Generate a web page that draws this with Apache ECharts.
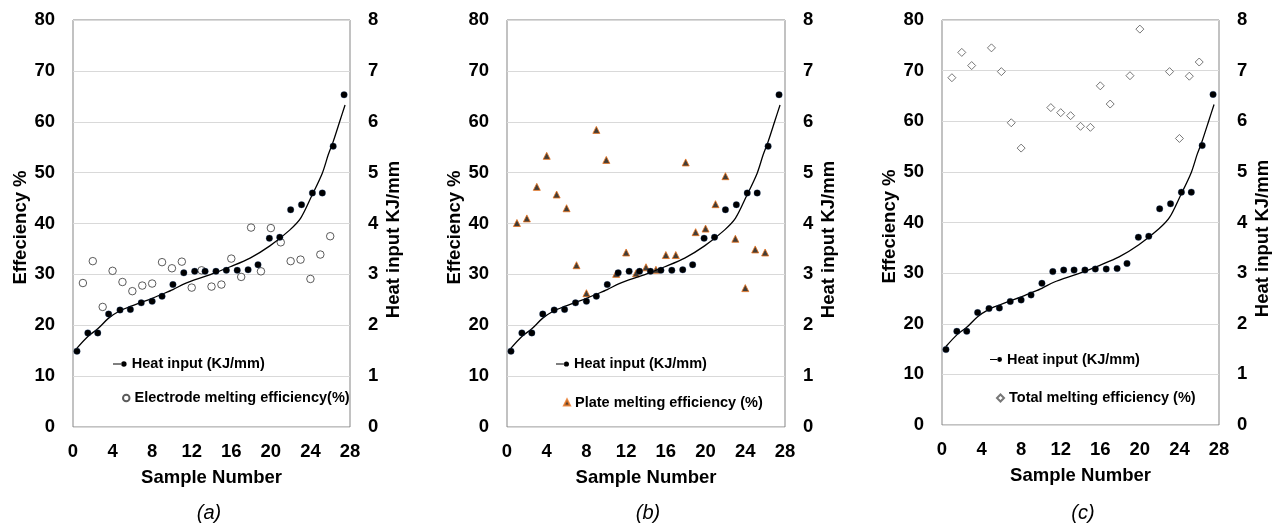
<!DOCTYPE html>
<html>
<head>
<meta charset="utf-8">
<script src="https://cdn.jsdelivr.net/npm/echarts@6/dist/echarts.min.js"></script>
<style>
html,body{margin:0;padding:0;background:#fff;}
#chart{width:1285px;height:529px;}
</style>
</head>
<body>
<div id="chart"></div>
<script>
// ---- data ----
const sampleX = [1,2,3,4,5,6,7,8,9,10,11,12,13,14,15,16,17,18,19,20,21,22,23,24,25,26];
const heatX = [0.4,1.5,2.5,3.6,4.75,5.8,6.9,8.0,9.0,10.1,11.2,12.3,13.35,14.45,15.5,16.6,17.7,18.7,19.85,20.9,22.0,23.1,24.2,25.2,26.3,27.4];
const heatInput = [1.49,1.85,1.85,2.22,2.30,2.31,2.44,2.47,2.57,2.80,3.03,3.06,3.06,3.06,3.08,3.08,3.09,3.19,3.71,3.73,4.27,4.37,4.60,4.60,5.52,6.53];
const electrodeEff = [28.3,32.6,23.6,30.7,28.5,26.7,27.8,28.2,32.4,31.2,32.5,27.4,30.8,27.6,28.0,33.1,29.5,39.2,30.6,39.1,36.3,32.6,32.9,29.1,33.9,37.5];
const plateEff = [40.1,41.0,47.2,53.3,45.7,43.0,31.8,26.3,58.4,52.5,30.1,34.3,30.2,31.4,30.9,33.8,33.8,52.0,38.3,39.0,43.8,49.3,37.0,27.3,34.9,34.3];
const totalEff = [68.6,73.6,71.0,84.0,74.5,69.8,59.7,54.7,90.8,83.7,62.7,61.7,61.1,59.0,58.8,67.0,63.4,91.2,69.0,78.2,80.5,81.9,69.8,56.6,68.9,71.7];
// trendline as traced on the picture
const trendX = [0.4,1.5,2.5,3.6,4.7,5.8,6.9,8.0,9.0,10.1,11.3,13.5,14.2,15.9,17.9,19.9,21.9,23.0,24.1,25.2,25.8,26.3,27.0,27.5];
const trendHeat = [1.55,1.78,1.93,2.14,2.28,2.37,2.45,2.53,2.61,2.70,2.82,2.97,3.02,3.15,3.32,3.56,3.87,4.10,4.53,4.99,5.35,5.61,6.03,6.33];
const effTicks = [0,10,20,30,40,50,60,70,80];
const heatTicks = [0,1,2,3,4,5,6,7,8];
const xTicks = [0,4,8,12,16,20,24,28];
const heatName = 'Heat input (KJ/mm)';
const effNames = ['Electrode melting efficiency(%)','Plate melting efficiency (%)','Total melting efficiency (%)'];
const captions = ['(a)','(b)','(c)'];

const FONT = '"Liberation Sans", Arial, sans-serif';
const pair = (xs, ys) => xs.map((x, i) => [x, ys[i]]);

const panels = [
  {left:73, width:277, height:407, eff:electrodeEff, symbol:'circle', size:7.5,
   style:{color:'#fff', borderColor:'#333', borderWidth:1},
   leg1:{left:113, top:356, w:14}, leg2:{left:122, top:390, w:6.5}, cap:209},
  {left:507, width:278, height:407, eff:plateEff, symbol:'triangle', size:7,
   style:{color:'#140c04', borderColor:'#e8731e', borderWidth:1},
   leg1:{left:556, top:356, w:13}, leg2:{left:563, top:394.5, w:6}, cap:648},
  {left:942, width:277, height:405, eff:totalEff, symbol:'diamond', size:8,
   style:{color:'#fff', borderColor:'#555', borderWidth:1},
   leg1:{left:990, top:351.5, w:12}, leg2:{left:996, top:390, w:7}, cap:1083}
];

const grid = [], xAxis = [], yAxis = [], series = [], legend = [], title = [];
const heatIcon = 'path://M0,2.5h8.6v1.2h-8.6z M8.2,3.1a2.7,2.7 0 1,0 5.4,0a2.7,2.7 0 1,0 -5.4,0z';

panels.forEach((p, i) => {
  grid.push({left:p.left, top:20, width:p.width, height:p.height, show:true,
    borderColor:'#858585', borderWidth:1, backgroundColor:'transparent'});
  xAxis.push({type:'value', gridIndex:i, min:xTicks[0], max:xTicks[xTicks.length-1], interval:xTicks[1]-xTicks[0],
    axisLine:{show:false}, axisTick:{show:false}, splitLine:{show:false},
    axisLabel:{color:'#000', fontSize:18.5, fontWeight:'bold', fontFamily:FONT, margin:15},
    name:'Sample Number', nameLocation:'middle', nameGap:41,
    nameTextStyle:{color:'#000', fontSize:18.5, fontWeight:'bold', fontFamily:FONT}});
  yAxis.push({type:'value', gridIndex:i, position:'left', min:effTicks[0], max:effTicks[effTicks.length-1], interval:effTicks[1]-effTicks[0],
    axisLine:{show:false}, axisTick:{show:false},
    splitLine:{show:true, lineStyle:{color:'#d9d9d9', width:1}},
    axisLabel:{color:'#000', fontSize:18.5, fontWeight:'bold', fontFamily:FONT, margin:18},
    name:'Effeciency %', nameLocation:'middle', nameGap:41, nameRotate:90,
    nameTextStyle:{color:'#000', fontSize:18.5, fontWeight:'bold', fontFamily:FONT, padding:[0,8,0,0]}});
  yAxis.push({type:'value', gridIndex:i, position:'right', min:heatTicks[0], max:heatTicks[heatTicks.length-1], interval:heatTicks[1]-heatTicks[0],
    axisLine:{show:false}, axisTick:{show:false}, splitLine:{show:false},
    axisLabel:{color:'#000', fontSize:18.5, fontWeight:'bold', fontFamily:FONT, margin:18},
    name:'Heat input KJ/mm', nameLocation:'middle', nameGap:34, nameRotate:90,
    nameTextStyle:{color:'#000', fontSize:18.5, fontWeight:'bold', fontFamily:FONT, padding:[0,32,0,0]}});

  const sHeat = heatName + '\u200b'.repeat(i);
  const sEff = effNames[i];
  series.push({type:'scatter', name:sEff, xAxisIndex:i, yAxisIndex:2*i, data:pair(sampleX, p.eff),
    symbol:p.symbol, symbolSize:p.size, itemStyle:p.style, clip:true, z:2});
  series.push({type:'line', name:'trend'+i, xAxisIndex:i, yAxisIndex:2*i+1, data:pair(trendX, trendHeat),
    smooth:0.3, showSymbol:false, symbol:'none', lineStyle:{color:'#000', width:1.3}, z:3, silent:true});
  series.push({type:'scatter', name:sHeat, xAxisIndex:i, yAxisIndex:2*i+1, data:pair(heatX, heatInput),
    symbol:'circle', symbolSize:6.5, itemStyle:{color:'#000', borderColor:'#0d3b7a', borderWidth:0.3, opacity:1}, clip:true, z:4});

  const textStyle = {color:'#000', fontSize:14.5, fontWeight:'bold', fontFamily:FONT, lineHeight:16};
  legend.push({data:[{name:sHeat, icon:heatIcon, itemStyle:{color:'#000', borderWidth:0}}],
    left:p.leg1.left, top:p.leg1.top, padding:0, itemWidth:p.leg1.w, itemHeight:5.4,
    selectedMode:false, textStyle:textStyle, formatter:() => heatName});
  legend.push({data:[{name:sEff, icon:p.symbol}],
    left:p.leg2.left, top:p.leg2.top, padding:0, itemWidth:p.leg2.w, itemHeight:p.leg2.w,
    selectedMode:false, textStyle:textStyle});
  title.push({text:captions[i], left:p.cap, top:503, textAlign:'center', padding:0,
    textStyle:{color:'#000', fontSize:20, fontWeight:'normal', fontStyle:'italic', fontFamily:FONT}});
});

const chart = echarts.init(document.getElementById('chart'), null, {renderer:'canvas'});
chart.setOption({animation:false, backgroundColor:'#fff', title, grid, xAxis, yAxis, series, legend});
</script>
</body>
</html>
